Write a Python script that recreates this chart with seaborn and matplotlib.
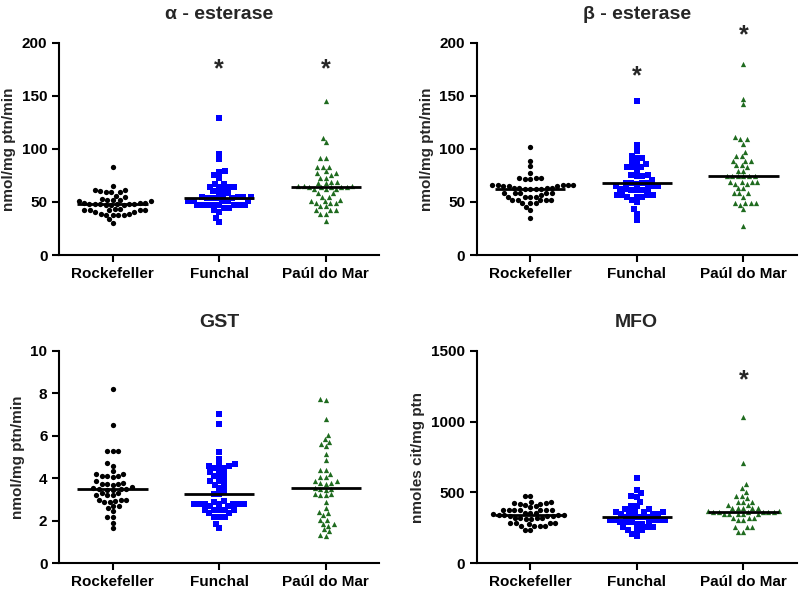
import pandas as pd
import seaborn as sns

import matplotlib
matplotlib.use("Agg")

import matplotlib.pyplot as plt

# Groups (x categories)
groups = ["Rockefeller", "Funchal", "Paúl do Mar"]

# alpha-esterase (nmol/mg ptn/min)
alpha_rock = [83, 65, 61, 60, 59, 59, 59, 61, 56, 55, 52, 52, 51, 52, 53, 51,
              49, 48, 48, 47, 48, 47, 48, 47, 49, 48, 48, 49, 42, 43, 42, 41,
              42, 43, 42, 42, 41, 38, 39, 38, 38, 39, 38, 34, 30]
alpha_fun = [129, 95, 90, 79, 78, 75, 73, 67, 67, 64, 64, 64, 64, 60, 61, 59,
             58, 56, 55, 55, 55, 55, 54, 54, 54, 54, 51, 51, 51, 51, 51, 47,
             47, 47, 47, 47, 47, 47, 47, 44, 44, 42, 41, 35, 31]
alpha_paul = [145, 110, 106, 91, 91, 83, 83, 83, 79, 77, 77, 75, 73, 73, 69,
              69, 68, 68, 65, 65, 64, 64, 64, 64, 65, 64, 62, 62, 62, 58, 58,
              55, 55, 52, 51, 51, 49, 49, 49, 46, 46, 42, 42, 42, 39, 39, 32]

# beta-esterase (nmol/mg ptn/min)
beta_rock = [102, 89, 84, 77, 73, 73, 72, 73, 72, 66, 66, 65, 66, 65, 66, 65,
             66, 63, 63, 62, 62, 63, 62, 62, 63, 58, 58, 58, 58, 57, 58, 55,
             55, 55, 55, 52, 52, 52, 52, 52, 49, 49, 49, 45, 42, 35]
beta_fun = [145, 104, 98, 93, 91, 91, 88, 86, 86, 83, 83, 83, 80, 75, 75, 74,
            74, 71, 68, 68, 68, 68, 67, 65, 65, 65, 62, 62, 62, 61, 61, 61, 57,
            57, 57, 57, 55, 55, 55, 52, 50, 43, 39, 33]
beta_paul = [180, 147, 142, 111, 109, 109, 105, 97, 93, 93, 89, 89, 89, 85, 85,
             83, 79, 79, 74, 74, 74, 74, 74, 74, 69, 69, 69, 69, 67, 67, 63, 63,
             58, 58, 58, 55, 49, 49, 49, 49, 47, 43, 27]

# GST (nmol/mg ptn/min)
gst_rock = [8.2, 6.5, 5.3, 5.3, 5.3, 4.7, 4.6, 4.35, 4.2, 4.2, 4.1, 4.1, 4.1,
            4.05, 3.85, 3.8, 3.75, 3.75, 3.75, 3.7, 3.6, 3.55, 3.5, 3.5, 3.5,
            3.45, 3.45, 3.3, 3.3, 3.2, 3.2, 3.2, 3.0, 3.0, 3.0, 2.95, 2.9, 2.9,
            2.7, 2.7, 2.6, 2.45, 2.2, 2.2, 1.9, 1.65]
gst_fun = [7.0, 6.55, 5.25, 4.9, 4.65, 4.65, 4.6, 4.6, 4.5, 4.5, 4.4, 4.3, 4.2,
           4.1, 4.1, 3.95, 3.85, 3.85, 3.7, 3.7, 3.55, 3.4, 3.25, 3.25, 2.95,
           2.9, 2.8, 2.8, 2.8, 2.8, 2.8, 2.8, 2.8, 2.7, 2.7, 2.5, 2.5, 2.5, 2.5,
           2.5, 2.35, 2.35, 2.2, 2.2, 2.2, 1.85, 1.65]
gst_paul = [7.75, 7.7, 6.8, 6.05, 5.85, 5.7, 5.6, 5.5, 5.15, 4.85, 4.4, 4.4,
            4.2, 4.05, 4.05, 3.85, 3.85, 3.8, 3.8, 3.75, 3.55, 3.5, 3.5, 3.45,
            3.25, 3.25, 3.2, 3.2, 2.9, 2.6, 2.4, 2.35, 2.25, 2.05, 2.05, 1.85,
            1.85, 1.75, 1.6, 1.5, 1.35, 1.3]

# MFO (nmoles cit/mg ptn)
mfo_rock = [478, 475, 435, 431, 425, 423, 421, 420, 414, 402, 398, 378, 377,
            376, 375, 374, 376, 379, 356, 355, 353, 345, 341, 340, 338, 338, 337,
            336, 335, 318, 317, 316, 318, 315, 319, 283, 282, 280, 284, 281, 264,
            262, 263, 260, 236, 234]
mfo_fun = [600, 517, 494, 477, 470, 433, 404, 404, 383, 383, 364, 364, 364, 364,
           364, 348, 348, 348, 330, 330, 329, 329, 328, 306, 306, 306, 306, 306,
           289, 289, 289, 289, 277, 277, 254, 254, 254, 235, 235, 235, 207, 193]
mfo_paul = [1030, 705, 560, 534, 505, 477, 477, 463, 435, 435, 435, 411, 411,
            388, 388, 388, 388, 388, 366, 366, 365, 364, 364, 363, 362, 362, 346,
            346, 346, 346, 346, 317, 317, 317, 306, 306, 254, 254, 254, 223, 223]

# significance marks: (group, height)
alpha_stars = [("Funchal", 175), ("Paúl do Mar", 175)]
beta_stars = [("Funchal", 168), ("Paúl do Mar", 207)]
gst_stars = []
mfo_stars = [("Paúl do Mar", 1293)]

colors = ["black", "#0000ff", "#1f6b1f"]
markers = ["o", "s", "^"]

panels = [
    ("α - esterase", "nmol/mg ptn/min", [alpha_rock, alpha_fun, alpha_paul],
     (0, 200), [0, 50, 100, 150, 200], alpha_stars),
    ("β - esterase", "nmol/mg ptn/min", [beta_rock, beta_fun, beta_paul],
     (0, 200), [0, 50, 100, 150, 200], beta_stars),
    ("GST", "nmol/mg ptn/min", [gst_rock, gst_fun, gst_paul],
     (0, 10), [0, 2, 4, 6, 8, 10], gst_stars),
    ("MFO", "nmoles cit/mg ptn", [mfo_rock, mfo_fun, mfo_paul],
     (0, 1500), [0, 500, 1000, 1500], mfo_stars),
]

sns.set_style("ticks")
plt.rcParams["font.family"] = ["Liberation Sans", "DejaVu Sans"]
plt.rcParams["font.weight"] = "bold"
plt.rcParams["axes.labelweight"] = "bold"
plt.rcParams["axes.titleweight"] = "bold"

fig = plt.figure(figsize=(8, 5.89), dpi=100)
boxes = [
    [0.074, 0.567, 0.40, 0.3605],
    [0.596, 0.567, 0.40, 0.3605],
    [0.074, 0.0436, 0.40, 0.361],
    [0.596, 0.0436, 0.40, 0.361],
]

for box, (title, ylab, series, ylim, yticks, stars) in zip(boxes, panels):
    ax = fig.add_axes(box)

    df = pd.DataFrame({
        "group": sum([[g] * len(v) for g, v in zip(groups, series)], []),
        "value": sum(series, []),
    })

    for g, c, m in zip(groups, colors, markers):
        sns.swarmplot(
            data=df[df["group"] == g],
            x="group",
            y="value",
            order=groups,
            color=c,
            marker=m,
            size=3.8,
            linewidth=0,
            ax=ax
        )

    # median line
    sns.boxplot(
        data=df,
        x="group",
        y="value",
        order=groups,
        width=0.66,
        showbox=False,
        showcaps=False,
        showfliers=False,
        whiskerprops={"visible": False},
        medianprops={"color": "black", "linewidth": 2, "zorder": 5},
        ax=ax
    )

    for g, h in stars:
        ax.text(groups.index(g), h, "*", ha="center", va="center",
                fontsize=18, fontweight="bold", clip_on=False)

    ax.set_xlim(-0.5, 2.5)
    ax.set_ylim(*ylim)
    ax.set_yticks(yticks)
    ax.set_xlabel("")
    ax.set_ylabel(ylab, fontsize=11)
    ax.set_title(title, fontsize=14, pad=17)
    ax.tick_params(labelsize=11, length=5, width=1.5, colors="black")
    for s in ["left", "bottom"]:
        ax.spines[s].set_linewidth(1.5)
        ax.spines[s].set_color("black")
    sns.despine(ax=ax)

fig.savefig("out.png", dpi=100)
plt.close()
